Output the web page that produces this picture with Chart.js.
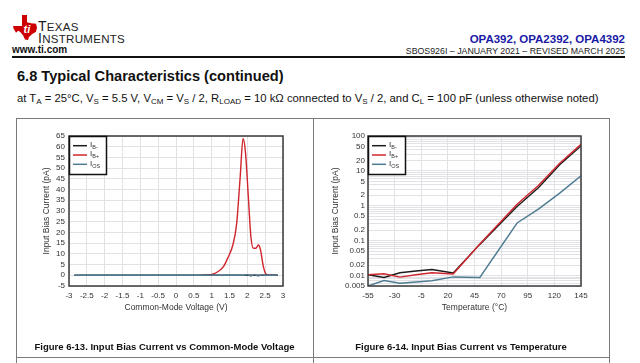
<!DOCTYPE html>
<html>
<head>
<meta charset="utf-8">
<script src="https://cdn.jsdelivr.net/npm/chart.js@4.4.1/dist/chart.umd.min.js"></script>
<style>
html,body{margin:0;padding:0;background:#fff;}
body{width:640px;height:363px;position:relative;overflow:hidden;font-family:"Liberation Sans",Arial,Helvetica,sans-serif;color:#111;}
.abs{position:absolute;white-space:nowrap;line-height:1;}
sub{font-size:8px;vertical-align:-2px;line-height:0;}
.vline{position:absolute;width:1px;background:#7a7a7a;}
.hline{position:absolute;height:1px;background:#7a7a7a;}
canvas{position:absolute;}
</style>
</head>
<body>
<!-- header -->
<svg class="abs" style="left:13px;top:15px" width="24" height="25" viewBox="0 0 24 24" preserveAspectRatio="none">
  <path d="M9,0 H14 V7 L18,8 L23,8.5 L24,12 L23,16 L19,18.5 L16,21 L15,24 L12,23.5 L10,19.5 L7,16 L5,15 L3,17 L0.5,13 L0,10.5 H9 Z" fill="#cc0000"/>
  <text x="10.5" y="17" font-family="Liberation Sans, Arial" font-weight="bold" font-style="italic" font-size="11" fill="#fff">ti</text>
</svg>
<div class="abs" style="left:38px;top:19px;font-size:14px;color:#222;letter-spacing:0.3px">T<span style="font-size:11.5px">EXAS</span></div>
<div class="abs" style="left:38px;top:31px;font-size:14px;color:#222;letter-spacing:0.3px">I<span style="font-size:11.5px">NSTRUMENTS</span></div>
<div class="abs" style="left:12px;top:45px;font-size:10px;font-weight:bold;color:#111">www.ti.com</div>
<div class="abs" style="right:15px;top:34px;font-size:11.5px;font-weight:bold;color:#1a1aa6">OPA392, OPA2392, OPA4392</div>
<div class="abs" style="right:15px;top:47px;font-size:8.8px;color:#222">SBOS926I – JANUARY 2021 – REVISED MARCH 2025</div>
<div class="abs" style="left:12px;top:56px;width:613px;height:2px;background:#111"></div>
<div class="abs" style="left:17px;top:69px;font-size:14.6px;font-weight:bold;color:#111">6.8 Typical Characteristics (continued)</div>
<div class="abs" style="left:17px;top:92.5px;font-size:11.3px;color:#111">at T<sub>A</sub> = 25°C, V<sub>S</sub> = 5.5 V, V<sub>CM</sub> = V<sub>S</sub> / 2, R<sub>LOAD</sub> = 10 kΩ connected to V<sub>S</sub> / 2, and C<sub>L</sub> = 100 pF (unless otherwise noted)</div>

<!-- table frame -->
<div class="hline" style="left:16px;top:118px;width:594px"></div>
<div class="hline" style="left:16px;top:357px;width:594px"></div>
<div class="vline" style="left:16px;top:118px;height:245px"></div>
<div class="vline" style="left:313px;top:118px;height:245px"></div>
<div class="vline" style="left:609px;top:118px;height:245px"></div>

<canvas id="c1" width="295" height="237" style="left:17px;top:119px"></canvas>
<canvas id="c2" width="294" height="237" style="left:314px;top:119px"></canvas>

<div class="abs" style="left:16px;width:297px;top:341.5px;text-align:center;font-size:9.5px;font-weight:bold;color:#111">Figure 6-13. Input Bias Current vs Common-Mode Voltage</div>
<div class="abs" style="left:313px;width:296px;top:341.5px;text-align:center;font-size:9.5px;font-weight:bold;color:#111">Figure 6-14. Input Bias Current vs Temperature</div>

<script>
// ---------- Figure 6-13: Input bias current vs common-mode voltage ----------
const cmVoltageIbMinus = [-2.85, 2.85];
const ibMinusVsVcm     = [0, 0];
const cmVoltageIbPlus  = [0.7, 0.9, 1.05, 1.2, 1.33, 1.45, 1.6, 1.7, 1.8, 1.88, 1.95, 2.03, 2.1, 2.17, 2.24, 2.31, 2.37, 2.45, 2.52, 2.6, 2.85];
const ibPlusVsVcm      = [0, 0.1, 0.6, 2, 4, 8, 14.5, 24, 46, 63.8, 57, 36, 18, 12.6, 12.6, 14.1, 11.8, 4, 0.6, 0, 0];
const cmVoltageIos     = [-2.85, 1.9, 2.0, 2.1, 2.2, 2.3, 2.4, 2.5, 2.85];
const iosVsVcm         = [0, 0, 0.3, -0.3, 0.3, -0.3, 0.2, 0, 0];
const vcmTicks   = [-3, -2.5, -2, -1.5, -1, -0.5, 0, 0.5, 1, 1.5, 2, 2.5, 3];
const ibLinTicks = [-5, 0, 5, 10, 15, 20, 25, 30, 35, 40, 45, 50, 55, 60, 65];

// ---------- Figure 6-14: Input bias current vs temperature ----------
const temperature = [-55, -40, -25, -10, 5, 25, 50, 85, 105, 125, 145];
const ibMinusVsT  = [0.0105, 0.0088, 0.012, 0.0135, 0.0148, 0.0118, 0.078, 0.95, 3.3, 15, 52];
const ibPlusVsT   = [0.0105, 0.0112, 0.0090, 0.0105, 0.012, 0.011, 0.08, 1.1, 3.8, 16.5, 58];
const iosVsT      = [0.005, 0.0072, 0.006, 0.0065, 0.0071, 0.0091, 0.0088, 0.32, 0.8, 2.3, 7.2];
const tempTicks   = [-55, -30, -5, 20, 45, 70, 95, 120, 145];
const ibLogLabels = [0.005, 0.01, 0.02, 0.05, 0.1, 0.2, 0.5, 1, 2, 5, 10, 20, 50, 100];

const seriesSubs   = ['B-', 'B+', 'OS'];
const seriesColors = ['#1c1c1c', '#d0262d', '#4e7b91'];

const FONT = '"Liberation Sans", Arial, sans-serif';
const pts = (xs, ys) => xs.map((x, i) => ({x, y: ys[i]}));

const frameLegend = {
  id: 'frameLegend',
  afterDatasetsDraw(chart) {
    const {ctx, chartArea: a} = chart;
    ctx.save();
    ctx.strokeStyle = '#3a3a3a';
    ctx.lineWidth = 1.5;
    ctx.strokeRect(a.left, a.top, a.right - a.left, a.bottom - a.top);
    const x0 = a.left, y0 = a.top, w = 37, h = 38;
    ctx.fillStyle = '#fff';
    ctx.fillRect(x0, y0, w, h);
    ctx.strokeStyle = '#111';
    ctx.lineWidth = 1.5;
    ctx.strokeRect(x0 + 0.5, y0 + 0.5, w, h);
    seriesSubs.forEach((sub, i) => {
      const y = y0 + 9.7 + i * 9.3;
      ctx.strokeStyle = seriesColors[i];
      ctx.lineWidth = 1.5;
      ctx.beginPath(); ctx.moveTo(x0 + 4, y); ctx.lineTo(x0 + 18, y); ctx.stroke();
      ctx.fillStyle = '#333';
      ctx.textBaseline = 'middle';
      ctx.font = '8px ' + FONT;
      ctx.fillText('I', x0 + 21, y - 1);
      ctx.font = '5.5px ' + FONT;
      ctx.fillText(sub, x0 + 23.3, y + 1.8);
    });
    ctx.restore();
  }
};

function fmt(v) { return String(Number(v.toPrecision(6))); }

function baseOptions(cfg) {
  return {
    responsive: false, animation: false, devicePixelRatio: 1,
    layout: {padding: {left: cfg.padLeft, top: 17, right: cfg.padRight, bottom: 43}},
    plugins: {legend: {display: false}, tooltip: {enabled: false}},
    elements: {point: {radius: 0}, line: {borderWidth: 1.4}},
    scales: {
      x: {
        type: 'linear', min: cfg.xMin, max: cfg.xMax,
        afterBuildTicks: s => { s.ticks = cfg.xTicks.map(v => ({value: v})); },
        afterFit: s => { s.height = 27; s.paddingLeft = 0; s.paddingRight = 0; },
        grid: {color: '#e2e2e6', lineWidth: 1, drawTicks: false},
        border: {display: false},
        ticks: {autoSkip: false, maxRotation: 0, padding: 5, color: '#333', font: {family: FONT, size: 8}, callback: v => fmt(v)},
        title: {display: true, text: cfg.xTitle, color: '#333', font: {family: FONT, size: 8.5}, padding: {top: 0, bottom: 0}}
      },
      y: cfg.y
    }
  };
}

// Chart 1
new Chart(document.getElementById('c1'), {
  type: 'line',
  data: {datasets: [
    {label: 'IB-', data: pts(cmVoltageIbMinus, ibMinusVsVcm), borderColor: seriesColors[0], order: 1},
    {label: 'IB+', data: pts(cmVoltageIbPlus, ibPlusVsVcm), borderColor: seriesColors[1], order: 2, cubicInterpolationMode: 'monotone'},
    {label: 'IOS', data: pts(cmVoltageIos, iosVsVcm), borderColor: seriesColors[2], order: 0}
  ]},
  options: baseOptions({
    padLeft: 22, padRight: 29, xMin: -3, xMax: 3, xTicks: vcmTicks, xTitle: 'Common-Mode Voltage (V)',
    y: {
      type: 'linear', min: -5, max: 65,
      afterBuildTicks: s => { s.ticks = ibLinTicks.map(v => ({value: v})); },
      afterFit: s => { s.width = 30; s.paddingTop = 0; s.paddingBottom = 0; },
      grid: {color: '#e2e2e6', lineWidth: 1, drawTicks: false},
      border: {display: false},
      ticks: {autoSkip: false, padding: 4, color: '#333', font: {family: FONT, size: 8}, callback: v => fmt(v)},
      title: {display: true, text: 'Input Bias Current (pA)', color: '#333', font: {family: FONT, size: 8.5}, padding: {top: 3, bottom: 0}}
    }
  }),
  plugins: [frameLegend]
});

// Chart 2
const logGrid = [];
for (let e = -3; e <= 2; e++) for (let m = 1; m <= 9; m++) {
  const v = Number((m * Math.pow(10, e)).toPrecision(6));
  if (v >= 0.005 && v <= 100) logGrid.push(v);
}
new Chart(document.getElementById('c2'), {
  type: 'line',
  data: {datasets: [
    {label: 'IB-', data: pts(temperature, ibMinusVsT), borderColor: seriesColors[0], order: 1},
    {label: 'IB+', data: pts(temperature, ibPlusVsT), borderColor: seriesColors[1], order: 0},
    {label: 'IOS', data: pts(temperature, iosVsT), borderColor: seriesColors[2], order: 2}
  ]},
  options: baseOptions({
    padLeft: 14, padRight: 27, xMin: -55, xMax: 145, xTicks: tempTicks, xTitle: 'Temperature (°C)',
    y: {
      type: 'logarithmic', min: 0.005, max: 100,
      afterBuildTicks: s => { s.ticks = logGrid.map(v => ({value: v})); },
      afterFit: s => { s.width = 40; s.paddingTop = 0; s.paddingBottom = 0; },
      grid: {color: '#e2e2e6', lineWidth: 1, drawTicks: false},
      border: {display: false},
      ticks: {autoSkip: false, padding: 3, color: '#333', font: {family: FONT, size: 8},
        callback: v => ibLogLabels.some(l => Math.abs(l - v) / l < 1e-6) ? fmt(v) : ''},
      title: {display: true, text: 'Input Bias Current (pA)', color: '#333', font: {family: FONT, size: 8.5}, padding: {top: 2.5, bottom: 0}}
    }
  }),
  plugins: [frameLegend]
});
</script>
</body>
</html>
